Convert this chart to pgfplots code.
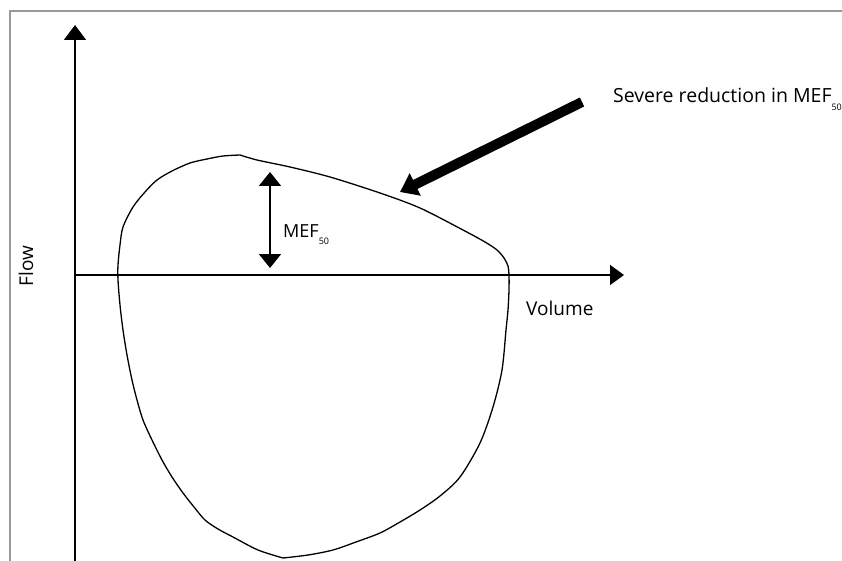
\documentclass[border=0pt]{standalone}
\usepackage{pgfplots}
\pgfplotsset{compat=1.18}
\usepackage{fontspec}
\setmainfont{Open Sans}
\usetikzlibrary{arrows.meta}
\begin{document}
\begin{tikzpicture}
\begin{axis}[
  scale only axis, width=842pt, height=561pt,
  xmin=0, xmax=842, ymin=0, ymax=561, y dir=reverse,
  axis lines=none, clip=false,
]
\addplot[draw=none] coordinates {(0,0) (842,561)};
% frame
\addplot[gray!80, line width=1.5pt] coordinates {(10,561) (10,11) (842,11)};
% axes
\addplot[black, line width=1.6pt, -{Triangle[width=22pt,length=15pt]}] coordinates {(75,561) (75,25)};
\addplot[black, line width=1.6pt, -{Triangle[width=20pt,length=14pt]}] coordinates {(75,275) (624,275)};
% loop: right part (peak -> right side -> bottom)
\addplot[black, line width=1.3pt, smooth, tension=0.5] coordinates {
 (240,155) (257,160) (290,167) (330,177) (380,193) (420,208) (463,230) (485,242)
 (497,250) (504,258) (508,266) (509,275) (509,290) (508,310) (506,330) (502,370)
 (493,407) (480,443) (460,477) (440,496) (420,510) (400,522) (380,533) (356,542) (333,550) (308,555) (283,558)};
% loop: left part (bottom -> left side -> peak)
\addplot[black, line width=1.3pt, smooth, tension=0.5] coordinates {
 (283,558) (258,550) (233,537) (218,529) (205,520) (194,507) (183,493) (172,477) (162,460)
 (152,440) (143,420) (137,400) (132,380) (127,355) (123,330) (120,305) (118,280)
 (118,265) (120,245) (123,227) (133,207) (145,192) (157,180)
 (172,171) (190,163) (207,159) (223,156) (240,155)};
% MEF50 double arrow
\addplot[black, line width=2pt, {Triangle[width=22pt,length=14pt]}-{Triangle[width=22pt,length=14pt]}] coordinates {(270,172) (270,268)};
% thick arrow
\addplot[black, line width=10pt, -{Triangle[width=24pt,length=17pt]}] coordinates {(582,102) (400,192)};
% labels
\node[anchor=base west, inner sep=0pt, font=\fontsize{18}{22}\selectfont] at (axis cs:283,237) {MEF\raisebox{-0.4em}{\fontsize{9}{12}\selectfont 50}};
\node[anchor=base west, inner sep=0pt, font=\fontsize{19.5}{24}\selectfont] at (axis cs:613,103) {Severe reduction in MEF\raisebox{-0.4em}{\fontsize{9}{12}\selectfont 50}};
\node[anchor=base west, inner sep=0pt, font=\fontsize{19}{24}\selectfont] at (axis cs:526,315) {Volume};
\node[anchor=base, rotate=90, inner sep=0pt, font=\fontsize{19}{24}\selectfont] at (axis cs:33,266) {Flow};
\end{axis}
\pgfresetboundingbox
\useasboundingbox (0,0) rectangle (842pt,561pt);
\end{tikzpicture}
\end{document}
